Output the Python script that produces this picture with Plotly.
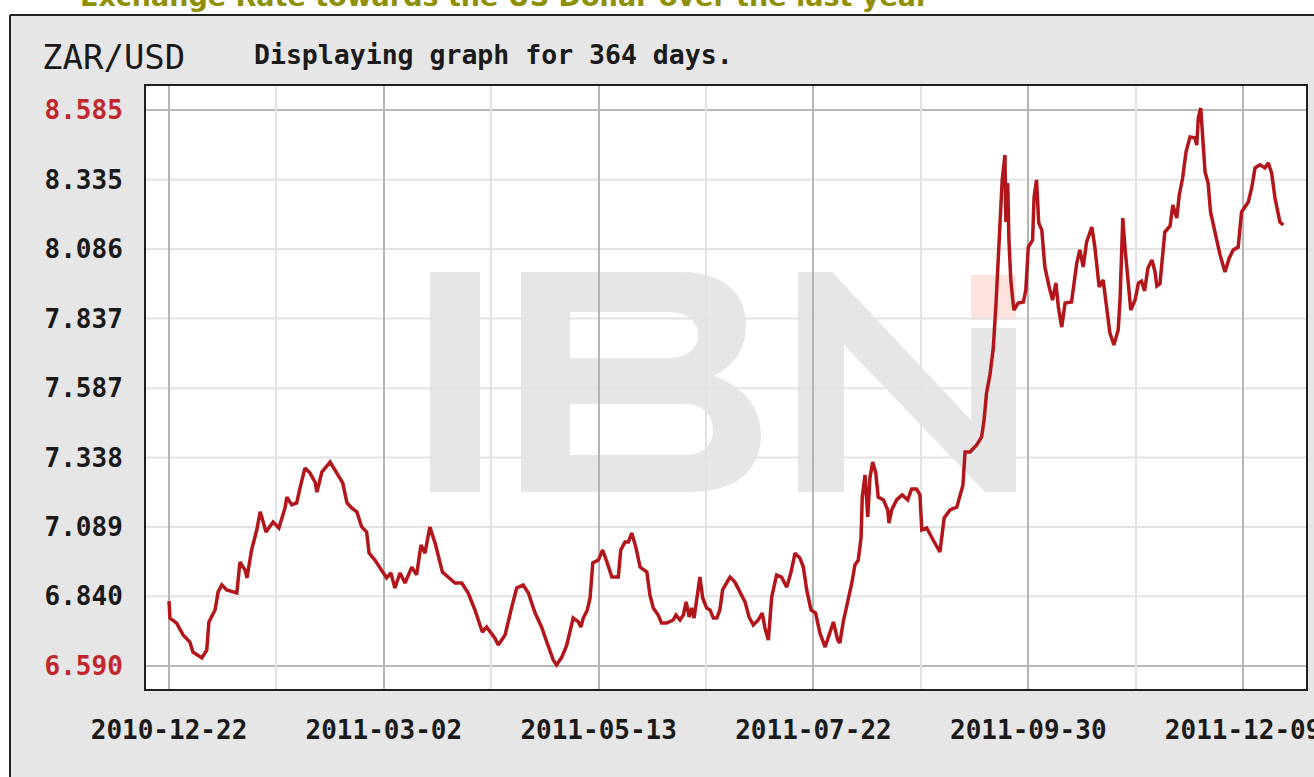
import plotly.graph_objects as go

# ---------------- data ----------------
days = [0.0,0.3,2.5,4.6,6.8,7.8,10.7,12.3,13.0,15.0,
        16.0,17.2,18.8,22.1,23.1,24.8,25.4,26.9,28.6,29.7,
        30.5,31.6,33.9,35.8,37.8,38.4,40.0,41.6,42.7,44.3,
        45.9,47.6,48.2,49.8,52.5,54.6,56.6,58.0,59.5,61.2,
        62.8,64.4,65.2,67.1,69.3,70.9,72.3,73.6,75.3,76.9,
        79.1,80.7,82.1,83.4,85.0,86.7,89.1,91.0,93.2,95.4,
        97.5,99.7,102.1,103.5,106.2,107.3,109.5,111.7,113.3,115.4,
        117.1,119.3,121.4,123.1,125.2,126.3,128.0,129.6,130.4,131.7,
        133.4,134.2,135.0,136.3,137.2,138.1,139.9,141.3,142.8,144.3,
        146.4,147.2,148.6,149.7,150.8,152.2,153.5,155.7,156.7,157.8,
        159.4,160.5,162.2,164.3,165.2,166.5,167.6,168.5,169.5,170.3,
        171.1,171.9,173.0,173.9,175.2,176.3,177.4,178.5,179.5,180.4,
        181.7,182.8,184.4,186.1,187.7,189.0,190.4,192.0,193.3,194.2,
        195.3,196.4,198.0,199.6,201.3,202.7,204.0,205.6,206.7,207.8,
        209.2,210.7,212.1,213.8,215.4,216.5,217.9,218.6,219.7,220.8,
        222.5,223.5,224.6,225.5,225.9,226.8,227.7,228.4,229.3,230.3,
        231.1,232.8,234.2,234.6,235.5,237.1,238.9,240.7,242.0,243.6,
        244.7,245.3,246.9,249.0,251.2,252.6,254.5,256.7,257.7,258.7,
        259.4,261.0,263.2,264.8,265.6,266.4,267.5,268.6,269.5,270.2,
        270.8,271.5,272.4,272.7,273.3,273.7,274.3,275.3,276.7,278.4,
        279.2,280.0,281.4,281.9,282.7,283.4,284.4,285.4,286.8,287.9,
        289.0,289.8,290.9,292.0,294.1,295.8,296.8,297.9,299.0,300.7,
        301.7,303.1,304.4,305.5,306.6,307.9,309.3,309.9,310.8,311.5,
        312.6,313.4,314.8,315.9,316.9,317.9,319.0,320.3,321.3,321.9,
        322.9,323.9,324.5,326.2,327.1,328.4,329.2,330.3,331.4,332.7,
        334.3,334.9,335.4,336.2,336.8,337.6,338.6,339.4,341.2,342.5,
        344.1,345.5,346.8,348.4,349.5,351.7,352.8,353.9,355.5,357.1,
        358.2,359.3,360.4,362.0,363.1]

zar_usd = [6.823,6.762,6.744,6.701,6.676,6.640,6.619,6.647,6.748,6.791,
           6.856,6.881,6.863,6.852,6.963,6.934,6.906,7.006,7.078,7.143,
           7.114,7.071,7.107,7.085,7.157,7.196,7.168,7.175,7.229,7.300,
           7.283,7.250,7.214,7.286,7.322,7.286,7.247,7.175,7.157,7.143,
           7.089,7.071,6.995,6.970,6.934,6.906,6.924,6.870,6.924,6.888,
           6.945,6.917,7.024,6.995,7.089,7.031,6.927,6.909,6.888,6.888,
           6.852,6.791,6.712,6.730,6.690,6.665,6.701,6.802,6.870,6.881,
           6.852,6.780,6.730,6.676,6.612,6.594,6.622,6.665,6.708,6.762,
           6.748,6.730,6.762,6.791,6.834,6.960,6.970,7.006,6.960,6.909,
           6.909,7.006,7.035,7.035,7.067,7.013,6.945,6.927,6.845,6.798,
           6.773,6.744,6.744,6.755,6.773,6.755,6.773,6.820,6.766,6.798,
           6.762,6.834,6.909,6.834,6.798,6.791,6.762,6.762,6.791,6.863,
           6.891,6.909,6.891,6.856,6.820,6.766,6.737,6.755,6.780,6.726,
           6.683,6.838,6.917,6.909,6.873,6.927,6.995,6.977,6.945,6.863,
           6.791,6.780,6.708,6.658,6.712,6.748,6.683,6.673,6.748,6.798,
           6.888,6.952,6.970,7.049,7.196,7.275,7.125,7.265,7.322,7.283,
           7.196,7.186,7.150,7.103,7.150,7.186,7.204,7.186,7.225,7.225,
           7.204,7.078,7.085,7.042,6.999,7.121,7.150,7.160,7.204,7.239,
           7.358,7.358,7.383,7.412,7.473,7.570,7.634,7.731,7.892,8.040,
           8.172,8.334,8.423,8.183,8.323,8.118,7.975,7.867,7.892,7.896,
           7.939,8.093,8.118,8.273,8.334,8.180,8.154,8.022,7.950,7.903,
           7.964,7.878,7.806,7.892,7.896,8.036,8.083,8.022,8.111,8.165,
           8.093,7.950,7.975,7.878,7.785,7.742,7.796,7.903,8.197,8.093,
           7.950,7.867,7.903,7.964,7.971,7.936,8.018,8.047,8.004,7.953,
           7.961,8.061,8.147,8.169,8.244,8.197,8.280,8.341,8.434,8.488,
           8.485,8.459,8.556,8.592,8.485,8.363,8.323,8.219,8.129,8.065,
           8.004,8.054,8.083,8.093,8.219,8.255,8.305,8.377,8.388,8.377,
           8.395,8.359,8.269,8.183,8.172]

y_ticks = [6.590, 6.840, 7.089, 7.338, 7.587, 7.837, 8.086, 8.335, 8.585]
x_tick_days = [0, 70, 140, 210, 280, 350]
x_tick_labels = ["2010-12-22", "2011-03-02", "2011-05-13",
                 "2011-07-22", "2011-09-30", "2011-12-09"]
minor_tick_days = [35, 105, 175, 245, 315]

# ---------------- layout geometry (page pixels) ----------------
W, H = 1314, 777
ML, MT = 146, 86
MR = W - 1306
MB = H - 689
PW, PH = W - ML - MR, H - MT - MB


def dx(px):
    return (px - ML) / PW


def dy(py):
    return (H - MB - py) / PH


def path(cmds):
    out = []
    for c in cmds:
        if c[0] == "Z":
            out.append("Z")
        else:
            pts = " ".join(f"{dx(x):.5f},{dy(y):.5f}" for x, y in c[1:])
            out.append(f"{c[0]} {pts}")
    return " ".join(out)


MONO = "DejaVu Sans Mono"
RED = "#c0262c"
WM = "#e6e6e6"
PANEL = "#e6e6e6"

fig = go.Figure()
fig.add_trace(go.Scatter(
    x=days, y=zar_usd, mode="lines",
    line=dict(color="#b3161a", width=3.5),
    hoverinfo="skip", showlegend=False))

y_text = []
for i, v in enumerate(y_ticks):
    s = f"{v:.3f}"
    if i == 0 or i == len(y_ticks) - 1:
        s = f"<span style='color:{RED}'>{s}</span>"
    y_text.append(s)

shapes = []
# white page outside the grey panel + the panel's border
shapes.append(dict(type="rect", xref="paper", yref="paper", layer="below",
                   x0=dx(-20), x1=dx(1340), y0=dy(15), y1=dy(-40),
                   fillcolor="white", line=dict(width=0)))
shapes.append(dict(type="rect", xref="paper", yref="paper", layer="below",
                   x0=dx(-20), x1=dx(10), y0=dy(800), y1=dy(-40),
                   fillcolor="white", line=dict(width=0)))
shapes.append(dict(type="line", xref="paper", yref="paper", layer="below",
                   x0=dx(10), x1=dx(1340), y0=dy(15), y1=dy(15),
                   line=dict(color="#222222", width=2)))
shapes.append(dict(type="line", xref="paper", yref="paper", layer="below",
                   x0=dx(10), x1=dx(10), y0=dy(15), y1=dy(800),
                   line=dict(color="#222222", width=2)))

# watermark "IBN"
wm = dict(xref="x domain", yref="y domain", layer="below",
          fillcolor=WM, line=dict(width=0))
shapes.append(dict(type="rect", x0=dx(430), x1=dx(480), y0=dy(492), y1=dy(272), **wm))
b_path = path([
    ("M", (521, 272)), ("L", (680, 272)),
    ("C", (727, 272), (746, 296), (746, 325)),
    ("C", (746, 350), (733, 366), (714, 376)),
    ("C", (742, 386), (761, 406), (761, 435)),
    ("C", (761, 470), (736, 492), (690, 492)),
    ("L", (521, 492)), ("Z",),
    ("M", (570, 312)), ("L", (570, 358)), ("L", (668, 358)),
    ("C", (688, 358), (698, 348), (698, 335)),
    ("C", (698, 322), (688, 312), (668, 312)), ("Z",),
    ("M", (570, 404)), ("L", (570, 455)), ("L", (684, 455)),
    ("C", (704, 455), (713, 444), (713, 430)),
    ("C", (713, 416), (704, 404), (684, 404)), ("Z",),
])
shapes.append(dict(type="path", path=b_path, **wm))
n_path = path([
    ("M", (798, 492)), ("L", (798, 272)), ("L", (832, 272)),
    ("L", (971, 420)), ("L", (971, 328)), ("L", (1016, 328)),
    ("L", (1016, 492)), ("L", (985, 492)), ("L", (844, 345)),
    ("L", (844, 492)), ("Z",),
])
shapes.append(dict(type="path", path=n_path, **wm))
shapes.append(dict(type="rect", xref="x domain", yref="y domain", layer="below",
                   x0=dx(971), x1=dx(1016), y0=dy(320), y1=dy(275),
                   fillcolor="#fde3de", line=dict(width=0)))

# horizontal grid lines at the y ticks (outer ones darker)
for i, v in enumerate(y_ticks):
    edge = i == 0 or i == len(y_ticks) - 1
    shapes.append(dict(type="line", xref="x domain", yref="y", x0=0, x1=1,
                       y0=v, y1=v, layer="below",
                       line=dict(color="#b8b8b8" if edge else "#e3e3e3", width=2)))

annotations = [
    dict(text="<b>Exchange Rate towards the US Dollar over the last year</b>",
         xref="paper", yref="paper", x=dx(78), y=dy(-3),
         xanchor="left", yanchor="middle", showarrow=False,
         font=dict(family="DejaVu Sans", size=27, color="#8f8f06")),
    dict(text="ZAR/USD", xref="paper", yref="paper", x=dx(40), y=dy(57),
         xanchor="left", yanchor="middle", showarrow=False,
         font=dict(family=MONO, size=34, color="#1a1a1a")),
    dict(text="<b>Displaying graph for 364 days.</b>", xref="paper", yref="paper",
         x=dx(252), y=dy(55), xanchor="left", yanchor="middle", showarrow=False,
         font=dict(family=MONO, size=26.5, color="#1a1a1a")),
]

fig.update_layout(
    width=W, height=H,
    margin=dict(l=ML, r=MR, t=MT, b=MB, autoexpand=False),
    paper_bgcolor=PANEL, plot_bgcolor="white",
    shapes=shapes, annotations=annotations, showlegend=False,
    xaxis=dict(
        range=[-7.5, 370.5], tickmode="array", tickvals=x_tick_days,
        ticktext=x_tick_labels, ticks="outside", ticklen=17,
        tickcolor="rgba(0,0,0,0)", ticklabeloverflow="allow",
        tickfont=dict(family=MONO, size=26, color="#1a1a1a", weight="bold"),
        showgrid=True, gridcolor="#b5b5b5", gridwidth=2, zeroline=False,
        minor=dict(tickmode="array", tickvals=minor_tick_days, showgrid=True,
                   gridcolor="#e3e3e3", gridwidth=2, ticks=""),
        showline=True, mirror=True, linecolor="#1e1e1e", linewidth=2,
        fixedrange=True),
    yaxis=dict(
        range=[6.5075, 8.671], tickmode="array", tickvals=y_ticks,
        ticktext=y_text, ticks="outside", ticklen=16,
        tickcolor="rgba(0,0,0,0)",
        tickfont=dict(family=MONO, size=26, color="#1a1a1a", weight="bold"),
        showgrid=False, zeroline=False,
        showline=True, mirror=True, linecolor="#1e1e1e", linewidth=2,
        fixedrange=True),
)

fig.write_html(
    "out.html",
    config={"displayModeBar": False},
    post_script="document.body.style.margin='0';document.body.style.overflow='hidden';",
)
